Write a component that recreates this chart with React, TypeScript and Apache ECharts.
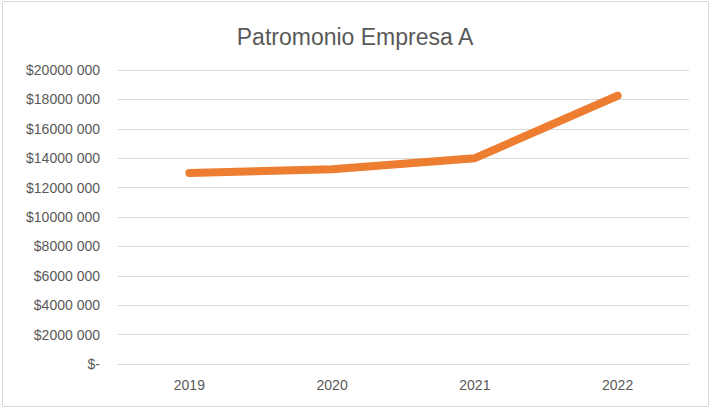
import React, { useEffect, useRef } from "react";
import * as echarts from "echarts";

const titleText = "Patromonio Empresa A";
const years = ["2019", "2020", "2021", "2022"];
const patrimonio = [13000000, 13250000, 14000000, 18250000];
const yTicks = { min: 0, max: 20000000, interval: 2000000 };

const fmt = (v: number) => {
  if (v === 0) return "$-";
  const th = Math.floor(v / 1000);
  const rest = String(Math.round(v % 1000)).padStart(3, "0");
  return `$${th} ${rest}`;
};

export default function App() {
  const ref = useRef<HTMLDivElement>(null);
  useEffect(() => {
    if (!ref.current) return;
    const chart = echarts.init(ref.current, undefined, { renderer: "svg" });
    const font = "'Liberation Sans', Arial, sans-serif";
    chart.setOption({
      animation: false,
      backgroundColor: "#ffffff",
      title: {
        text: titleText,
        left: "center",
        top: 20,
        textStyle: { fontFamily: font, fontSize: 23, fontWeight: "normal", color: "#595959" },
      },
      graphic: [
        {
          type: "rect",
          shape: { x: 2.5, y: 1.5, width: 706, height: 405 },
          style: { fill: "none", stroke: "#D9D9D9", lineWidth: 1 },
          silent: true,
        },
      ],
      grid: { left: 118, right: 21, top: 70, bottom: 45 },
      xAxis: {
        type: "category",
        data: years,
        boundaryGap: true,
        axisLine: { show: true, lineStyle: { color: "#D9D9D9", width: 1 } },
        axisTick: { show: false },
        axisLabel: { fontFamily: font, fontSize: 14, color: "#595959", margin: 14 },
      },
      yAxis: {
        type: "value",
        min: yTicks.min,
        max: yTicks.max,
        interval: yTicks.interval,
        axisLine: { show: false },
        axisTick: { show: false },
        splitLine: { lineStyle: { color: "#D9D9D9", width: 1 } },
        axisLabel: { fontFamily: font, fontSize: 14, color: "#595959", margin: 18, formatter: fmt },
      },
      series: [
        {
          type: "line",
          data: patrimonio,
          symbol: "none",
          lineStyle: { color: "#ED7D31", width: 8, cap: "round", join: "round" },
        },
      ],
    });
    return () => chart.dispose();
  }, []);
  return (
    <div
      ref={ref}
      style={{ position: "fixed", left: 0, top: 0, width: 710, height: 409 }}
    />
  );
}
